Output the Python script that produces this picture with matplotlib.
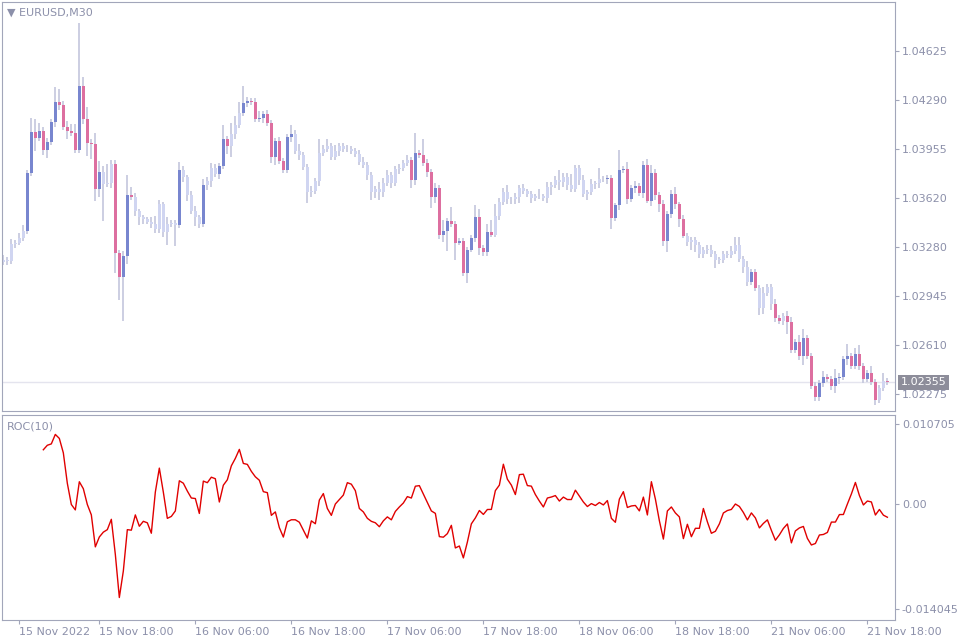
import numpy as np
import matplotlib.pyplot as plt
from matplotlib.patches import Rectangle

# EURUSD M30 closes, in pips above 1.022475
close_pips = [
    94.8, 94.1, 105.8, 106.5, 109.9, 114.7, 153.9, 182.1, 177.9, 182.7,
    169.7, 175.2, 188.9, 202.7, 200.6, 185.5, 182.7, 181.4, 169.7, 213.7,
    191.0, 174.5, 173.8, 142.9, 154.6, 146.3, 147.0, 160.1, 99.6, 83.1,
    97.6, 138.8, 137.4, 127.8, 123.7, 122.3, 120.9, 119.5, 116.1, 132.6,
    114.0, 118.9, 120.2, 118.2, 155.9, 151.1, 138.8, 127.8, 123.7, 119.5,
    145.7, 148.4, 157.3, 153.2, 158.7, 177.2, 172.4, 180.7, 186.9, 195.1,
    202.0, 203.4, 202.7, 191.0, 191.7, 194.4, 188.2, 164.9, 175.9, 162.1,
    155.9, 178.6, 180.7, 169.0, 166.3, 158.0, 140.8, 141.5, 148.4, 167.6,
    170.4, 172.4, 164.9, 169.0, 172.4, 170.4, 170.4, 169.0, 166.9, 161.4,
    159.4, 152.5, 140.8, 142.9, 140.8, 147.0, 152.5, 147.0, 156.6, 157.3,
    160.8, 162.8, 149.1, 167.6, 166.3, 160.8, 154.6, 137.4, 143.6, 112.0,
    114.7, 121.6, 119.5, 106.5, 107.9, 85.9, 101.7, 109.9, 124.3, 103.0,
    100.3, 114.0, 112.0, 125.0, 134.0, 140.8, 136.0, 136.0, 137.4, 143.6,
    141.5, 139.5, 136.7, 138.1, 138.1, 136.7, 144.3, 145.7, 149.1, 147.7,
    151.1, 145.7, 142.9, 157.3, 149.1, 139.5, 140.8, 146.3, 147.0, 149.8,
    149.8, 150.5, 123.0, 131.9, 155.9, 156.6, 136.0, 143.6, 145.0, 140.2,
    159.4, 135.3, 153.9, 138.8, 132.6, 107.9, 126.4, 139.5, 132.6, 122.3,
    111.3, 107.2, 108.5, 105.1, 98.9, 101.7, 101.7, 98.9, 94.8, 94.8,
    98.9, 98.2, 101.0, 105.1, 95.5, 90.0, 79.7, 86.6, 75.6, 61.8,
    72.1, 76.3, 64.6, 55.0, 52.9, 56.3, 52.2, 33.0, 38.5, 28.9,
    41.2, 28.9, 8.2, 0.7, 10.3, 14.4, 13.1, 8.2, 13.7, 14.4,
    26.8, 28.9, 22.0, 30.2, 22.0, 13.1, 17.2, 11.0, -1.4, 6.9,
    11.5, 10.75,
]
first_open_pips = 93.4
base_price = 1.022475

# wick lengths beyond the body, pips
upper_wick = [
    3, 2, 3, 2, 3, 4, 2, 10, 9, 6, 3, 3, 2, 10, 9, 3, 4, 5, 6, 43,
    6, 8, 3, 8, 8, 4, 13, 3, 3, 2, 3, 14, 6, 3, 2, 2, 2, 3, 5, 3,
    2, 5, 2, 2, 6, 3, 2, 3, 4, 2, 4, 3, 4, 3, 2, 10, 2, 8, 6, 8,
    12, 3, 2, 3, 5, 2, 3, 2, 2, 3, 2, 2, 6, 3, 5, 2, 2, 4, 2, 10,
    3, 5, 2, 4, 2, 2, 3, 2, 2, 3, 4, 2, 2, 2, 5, 4, 4, 2, 2, 3,
    2, 4, 2, 14, 2, 11, 3, 2, 4, 2, 7, 2, 9, 2, 2, 2, 2, 2, 8, 5,
    2, 5, 8, 8, 3, 3, 5, 2, 3, 2, 3, 2, 2, 2, 5, 2, 4, 2, 3, 7,
    3, 3, 8, 2, 2, 4, 2, 4, 2, 8, 2, 2, 2, 2, 14, 2, 5, 2, 4, 2,
    3, 4, 6, 3, 2, 3, 2, 3, 5, 2, 3, 2, 2, 2, 2, 2, 3, 3, 2, 2,
    2, 2, 3, 5, 5, 2, 4, 2, 2, 2, 4, 2, 2, 3, 2, 2, 3, 3, 2, 5,
    6, 2, 2, 3, 2, 4, 2, 2, 6, 3, 2, 8, 2, 4, 6, 2, 2, 5, 2, 2,
    6, 2,
]
lower_wick = [
    2, 3, 2, 3, 2, 2, 2, 2, 9, 2, 3, 5, 2, 3, 3, 2, 5, 2, 2, 2,
    3, 9, 10, 8, 5, 25, 2, 3, 14, 16, 30, 6, 2, 3, 5, 3, 2, 3, 3, 3,
    4, 9, 2, 14, 2, 3, 4, 2, 6, 3, 2, 3, 4, 2, 3, 2, 5, 7, 3, 2,
    2, 3, 2, 2, 2, 3, 2, 4, 5, 2, 2, 2, 3, 2, 3, 2, 7, 3, 2, 3,
    2, 2, 2, 2, 3, 2, 2, 2, 2, 2, 2, 3, 5, 4, 5, 3, 2, 3, 2, 3,
    2, 2, 5, 3, 2, 2, 3, 7, 4, 3, 5, 14, 2, 12, 2, 2, 7, 2, 3, 5,
    3, 3, 2, 2, 3, 2, 3, 3, 3, 4, 2, 2, 3, 2, 2, 2, 3, 5, 2, 5,
    3, 3, 2, 2, 3, 2, 4, 2, 3, 3, 2, 3, 7, 2, 3, 2, 3, 2, 3, 2,
    3, 2, 4, 3, 5, 4, 8, 3, 3, 5, 2, 3, 6, 5, 3, 3, 3, 2, 6, 3,
    2, 2, 2, 2, 2, 4, 3, 2, 2, 5, 4, 2, 4, 3, 2, 3, 8, 2, 2, 3,
    6, 2, 2, 3, 3, 3, 2, 3, 5, 4, 2, 4, 2, 2, 3, 3, 2, 2, 3, 2,
    2, 2,
]
# bars drawn in full colour (the others are pale)
strong_ranges = [(6, 24), (28, 32), (44, 44), (50, 50), (54, 56), (60, 72),
                 (102, 122), (150, 170), (187, 188), (193, 194), (196, 218), (221, 221)]

price_ticks = [1.02275, 1.02610, 1.02945, 1.03280, 1.03620, 1.03955, 1.04290, 1.04625]
roc_ticks = [-0.014045, 0.0, 0.010705]
roc_tick_labels = ['-0.014045', '0.00', '0.010705']
time_labels = ['15 Nov 2022', '15 Nov 18:00', '16 Nov 06:00', '16 Nov 18:00', '17 Nov 06:00',
               '17 Nov 18:00', '18 Nov 06:00', '18 Nov 18:00', '21 Nov 06:00', '21 Nov 18:00']
time_label_bars = [4, 24, 48, 72, 96, 120, 144, 168, 192, 216]

closes = base_price + np.array(close_pips) / 1e4
opens = np.concatenate([[base_price + first_open_pips / 1e4], closes[:-1]])
highs = np.maximum(opens, closes) + np.array(upper_wick) / 1e4
lows = np.minimum(opens, closes) - np.array(lower_wick) / 1e4
n = len(closes)
strong = np.zeros(n, bool)
for a, b in strong_ranges:
    strong[a:b + 1] = True

roc = np.full(n, np.nan)
roc[10:] = closes[10:] / closes[:-10] - 1

UP, DOWN, PALE, WICK = '#7886cf', '#dd6fa0', '#d0d5f1', '#c8cadf'
TXT, FRAME = '#8c90aa', '#a2a6ba'

fig = plt.figure(figsize=(9.6, 6.4), dpi=100)
W, H = 960, 640
ax = fig.add_axes([2 / W, 1 - 411 / H, 893 / W, 409 / H])
ax2 = fig.add_axes([2 / W, 1 - 620 / H, 893 / W, 205 / H])

for i in range(n):
    ax.vlines(i, lows[i], highs[i], color=WICK, lw=1.3, zorder=1)
    if strong[i]:
        col = UP if closes[i] >= opens[i] else DOWN
    else:
        col = PALE
    lo = min(opens[i], closes[i])
    h = max(abs(closes[i] - opens[i]), 0.00004)
    ax.add_patch(Rectangle((i - 0.4, lo), 0.8, h, color=col, lw=0, zorder=2))

last = closes[-1]
ax.axhline(last, color='#e4e4ee', lw=1, zorder=0)
ax.text(1.006, last, f'{last:.5f}', transform=ax.get_yaxis_transform(), va='center', ha='left',
        fontsize=8, color='white', bbox=dict(facecolor='#8d8d9a', edgecolor='none', pad=2),
        clip_on=False)

ax.set_xlim(-0.33, 222.9)
ax.set_ylim(1.02159, 1.04960)
ax.set_yticks(price_ticks)
ax.set_yticklabels([f'{p:.5f}' for p in price_ticks])
ax.set_xticks([])
ax.text(0.006, 0.985, '▼ EURUSD,M30', transform=ax.transAxes, fontsize=8, color=TXT, va='top')

ax2.plot(np.arange(n), roc, color='#e00000', lw=1)
ax2.set_xlim(-0.33, 222.9)
ax2.set_ylim(-0.01552, 0.01191)
ax2.set_yticks(roc_ticks)
ax2.set_yticklabels(roc_tick_labels)
ax2.set_xticks(time_label_bars)
ax2.set_xticklabels(time_labels, ha='left')
ax2.text(0.006, 0.97, 'ROC(10)', transform=ax2.transAxes, fontsize=8, color=TXT, va='top')

for a in (ax, ax2):
    a.yaxis.tick_right()
    a.tick_params(axis='both', colors=FRAME, labelcolor=TXT, labelsize=8, length=3, pad=2)

    for s in a.spines.values():
        s.set_color(FRAME)

fig.savefig('out.png', dpi=100)
